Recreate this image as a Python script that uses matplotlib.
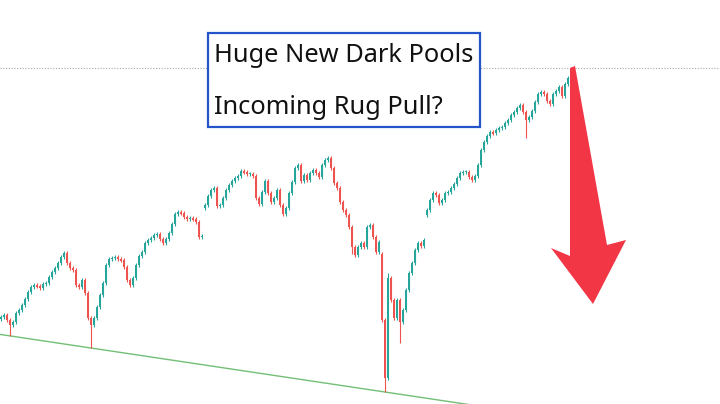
import numpy as np
import matplotlib.pyplot as plt
from matplotlib.patches import Polygon, Rectangle

# Closing prices (one candle every ~3 px)
closes = [
    87, 89, 84, 79, 82, 91, 94, 99, 105, 112, 117, 119, 118, 116, 120, 121, 127, 132, 136, 141,
    147, 151, 141, 136, 134, 119, 117, 124, 111, 86, 79, 86, 97, 109, 121, 139, 145, 146, 147, 145,
    144, 137, 124, 119, 126, 139, 148, 152, 161, 164, 166, 169, 170, 165, 161, 165, 171, 180, 190, 192,
    191, 187, 185, 186, 185, 182, 167, 168, 199, 208, 214, 216, 198, 199, 206, 214, 219, 223, 226, 228,
    233, 232, 230, 230, 228, 206, 200, 212, 223, 211, 202, 206, 214, 199, 190, 196, 211, 222, 236, 239,
    223, 229, 224, 231, 234, 231, 227, 239, 244, 246, 236, 221, 216, 202, 194, 189, 177, 157, 149, 157,
    161, 157, 177, 179, 167, 152, 162, 84, 26, 126, 104, 86, 104, 82, 94, 114, 131, 141, 154, 161,
    158, 164, 194, 204, 211, 209, 201, 204, 211, 212, 216, 220, 226, 231, 232, 232, 227, 224, 228, 239,
    254, 262, 268, 272, 271, 274, 276, 277, 281, 284, 289, 292, 296, 299, 292, 284, 287, 293, 302, 310,
    312, 310, 303, 300, 310, 313, 317, 308, 320, 326, 334,
]

# Opens that gapped away from the previous close
gap_opens = {68: 196, 127: 150, 142: 189}

# Wicks that stick out noticeably
long_lows = {3: 68, 30: 56, 128: 12, 133: 61, 175: 266, 117: 150}
long_highs = {129: 131, 190: 336}

UP_COLOR = "#26a69a"
DOWN_COLOR = "#ef5350"

n = len(closes)
x = np.arange(n)
opens = [closes[0] - 2] + closes[:-1]
for i, o in gap_opens.items():
    opens[i] = o
opens = np.array(opens, dtype=float)
closes = np.array(closes, dtype=float)

highs = np.maximum(opens, closes) + 2
lows = np.minimum(opens, closes) - 2
for i, v in long_lows.items():
    lows[i] = v
for i, v in long_highs.items():
    highs[i] = v

colors = [UP_COLOR if c >= o else DOWN_COLOR for o, c in zip(opens, closes)]
body = closes - opens
body = np.where(np.abs(body) < 1.5, np.where(body >= 0, 1.5, -1.5), body)

fig = plt.figure(figsize=(7.2, 4.04), dpi=100)
ax = fig.add_axes([0, 0, 1, 1])
ax.set_xlim(-0.3, 239.7)
ax.set_ylim(0, 404)
ax.axis("off")

# Last price line
ax.axhline(highs[-1], color="#a8a8a8", lw=0.8, ls=(0, (1, 1.5)), zorder=1)

# Support trend line through the two big lows
i1, i2 = 30, 128
slope = (lows[i2] - lows[i1]) / (i2 - i1)
tx = np.array([-0.3, 160])
ax.plot(tx, lows[i1] + slope * (tx - i1), color="#72bf76", lw=1.0, zorder=2)

ax.vlines(x, lows, highs, colors=colors, lw=0.8, zorder=3)
ax.bar(x, body, bottom=opens, width=0.75, color=colors, zorder=4)

# Overlay in pixel coordinates for the annotations
ov = fig.add_axes([0, 0, 1, 1])
ov.set_xlim(0, 720)
ov.set_ylim(404, 0)
ov.axis("off")
ov.patch.set_alpha(0)

ov.add_patch(Rectangle((208, 33), 272, 94, facecolor="white", edgecolor="#2454c9", lw=1.6, zorder=5))
ov.text(214, 55, "Huge New Dark Pools", fontsize=18.3, family="Noto Sans",
        va="center", ha="left", color="#111111", zorder=6)
ov.text(214, 108, "Incoming Rug Pull?", fontsize=18.3, family="Noto Sans",
        va="center", ha="left", color="#111111", zorder=6)

arrow = [(570, 68), (575, 66), (607, 245), (626, 240), (593, 304), (551, 248), (570, 256)]
ov.add_patch(Polygon(arrow, closed=True, facecolor="#f23645", edgecolor="none", zorder=7))

fig.savefig("out.png", dpi=100)
